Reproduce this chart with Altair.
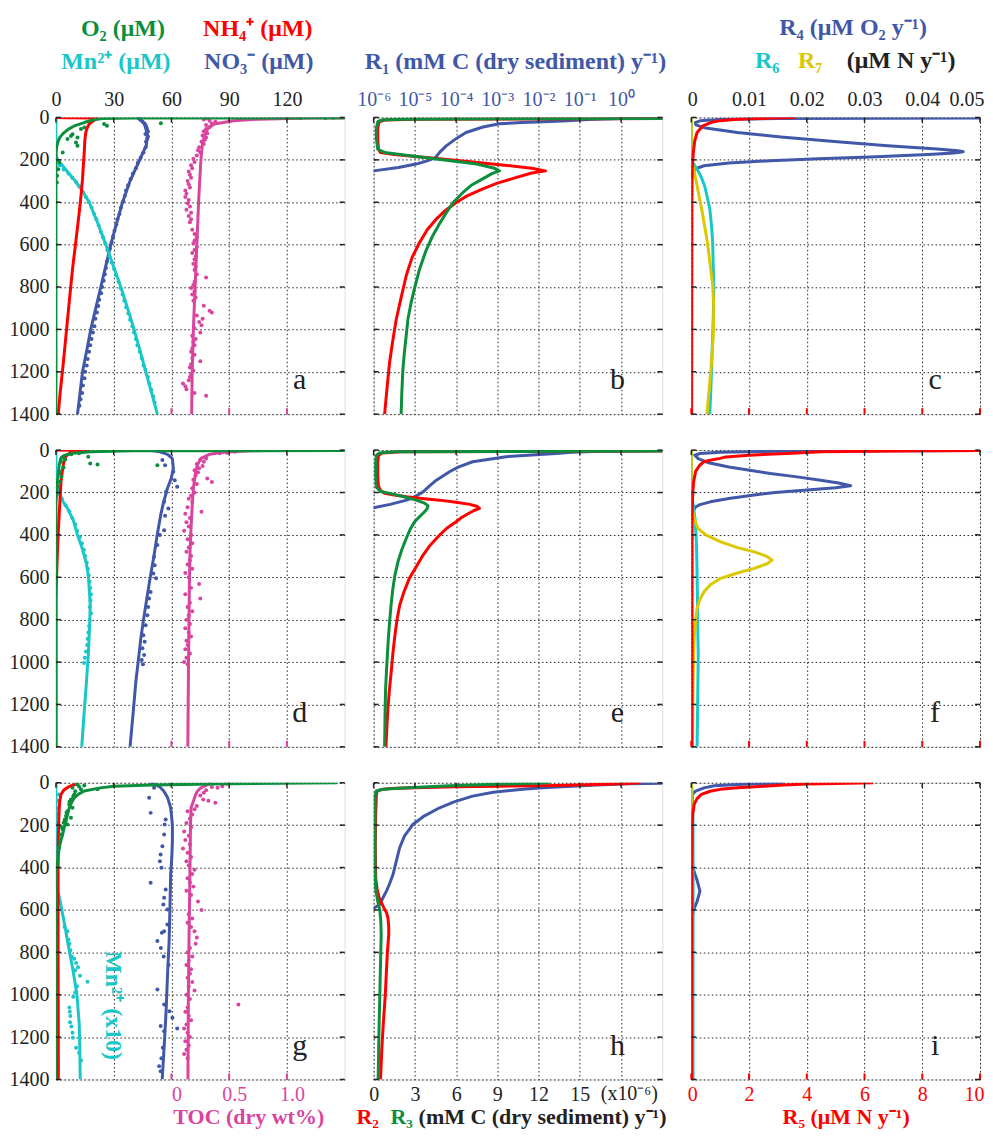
import altair as alt
import pandas as pd

FONT = "Liberation Serif"
GREEN = "#0b8f3d"
RED = "#ff0000"
CYAN = "#19c6c8"
BLUE = "#4157a7"
PINK = "#d9449f"
YELLOW = "#dcc800"
DARK = "#222222"
W, H = 289, 297
TITLE_SIZE = 24
BOTTOM_TITLE_SIZE = 22
TICK_SIZE = 20
BOTTOM_LABEL_PAD = 21
BOTTOM_TITLE_Y = H + 45

DEPTH_TICKS = [0, 200, 400, 600, 800, 1000, 1200, 1400]
UM_DOM = [0, 150]
UM_TICKS = [0, 30, 60, 90, 120]
TOC_DOM = [-1.0, 1.5]
TOC_TICKS = [0, 0.5, 1.0]
R1_DOM = [-6, 1]
R1_TICKS = [-6, -5, -4, -3, -2, -1, 0]
R23_DOM = [0, 21]
R23_TICKS = [0, 3, 6, 9, 12, 15]
R467_DOM = [0, 0.05]
R467_TICKS = [0, 0.01, 0.02, 0.03, 0.04, 0.05]
R5_DOM = [0, 10]
R5_TICKS = [0, 2, 4, 6, 8, 10]

# ---------------- panel a  (depth, value) ----------------
A_O2_LINE = [(1, 250), (3, 40), (5, 24), (12, 19), (24, 14.7), (40, 9.5), (55, 6.5), (75, 3.8), (94, 2), (115, 1), (134, 0.5), (160, 0.1), (180, 0), (1400, 0)]
A_O2_DOTS = [(2, 127), (3, 140), (1, 144), (27, 54.5), (31, 25), (39, 26.5), (47, 14.7), (55, 13), (79, 8.6), (87, 7.8), (94, 11.2), (102, 6), (118, 10.4), (134, 11.2), (165, 3.5), (212, 1.7), (244, 1.2), (275, 0.6), (307, 0.5)]
A_NH4_LINE = [(0, 0), (1, 5), (2, 20), (5, 21.5), (15, 19.5), (31, 17.3), (50, 16.2), (71, 15.5), (110, 15), (165, 14.7), (230, 14.2), (291, 13.8), (370, 13), (448, 12.1), (580, 10.4), (716, 8.6), (870, 6.9), (1030, 5.2), (1160, 3.8), (1298, 2.2), (1400, 1.2)]
A_NO3_LINE = [(0, 43), (30, 46), (80, 47.5), (130, 47), (200, 43.5), (300, 38.5), (400, 34.6), (500, 31.5), (600, 28.5), (700, 25.9), (800, 23.3), (900, 20.7), (1000, 18.1), (1100, 16), (1200, 13.8), (1300, 12.5), (1400, 11.2)]
A_NO3_DOTS = [(5, 43), (12, 44), (20, 45), (28, 46), (36, 46.5), (45, 47), (55, 47.3), (66, 47.8), (78, 46.5), (90, 47.8), (100, 47.5), (115, 46.8), (140, 46.6), (165, 45.5), (190, 44), (215, 42.5), (240, 41.5), (265, 40), (290, 38.8), (320, 37.5), (345, 36.4), (370, 35.8), (395, 35), (425, 33.8), (455, 33), (480, 31.9), (505, 31.4), (535, 30.4), (560, 29.7), (590, 28.9), (620, 28), (650, 27.6), (680, 26.5), (710, 26), (740, 25.4), (770, 24.8), (800, 24), (830, 23.5), (860, 22.5), (890, 22), (920, 21.3), (950, 20.5), (985, 20), (1015, 19.2), (1045, 18.5), (1075, 17.8), (1105, 17.2), (1140, 16.5), (1170, 16), (1200, 15.2), (1230, 14.8), (1265, 14), (1300, 13.6), (1330, 12.8), (1360, 12.2)]
A_MN_LINE = [(0, 0), (180, 0), (200, 1), (250, 5.5), (300, 10), (350, 14), (400, 17.3), (500, 21.8), (600, 25.9), (700, 29.8), (800, 33.7), (900, 37.2), (1000, 40.6), (1100, 43.7), (1200, 46.7), (1300, 49.7), (1400, 52.7)]
A_MN_DOTS = [(200, 0.5), (225, 2), (245, 4), (265, 6.5), (285, 8.5), (305, 10.5), (325, 12), (350, 13.8), (375, 15.5), (400, 17), (425, 18.5), (455, 19.8), (480, 21), (510, 22.2), (540, 23.3), (565, 24.4), (595, 25.6), (625, 26.7), (655, 27.8), (685, 29), (715, 30.2), (745, 31.2), (775, 32.5), (805, 33.5), (835, 34.6), (865, 35.5), (895, 36.5), (925, 37.6), (955, 38.5), (985, 39.7), (1015, 40.5), (1045, 41.5), (1075, 42.3), (1105, 43.5), (1135, 44.5), (1170, 45.5), (1190, 46.5), (1225, 47.8), (1255, 48.5), (1285, 49.5), (1315, 50.5), (1345, 51.3)]
A_TOC_LINE = [(0, 2.5), (3, 1.2), (8, 0.75), (16, 0.54), (31, 0.37), (50, 0.32), (71, 0.296), (100, 0.28), (133, 0.267), (200, 0.255), (300, 0.245), (400, 0.235), (600, 0.22), (800, 0.205), (1000, 0.19), (1200, 0.18), (1400, 0.175)]
A_TOC_DOTS = [(5, 0.3), (10, 0.28), (15, 0.33), (20, 0.38), (28, 0.35), (35, 0.3), (45, 0.33), (55, 0.3), (65, 0.28), (75, 0.31), (85, 0.27), (95, 0.3), (105, 0.29), (115, 0.26), (125, 0.28), (140, 0.24), (155, 0.23), (165, 0.25), (180, 0.22), (195, 0.19), (210, 0.2), (225, 0.17), (240, 0.18), (255, 0.15), (270, 0.16), (285, 0.17), (300, 0.14), (315, 0.15), (330, 0.16), (345, 0.12), (360, 0.13), (375, 0.12), (390, 0.15), (405, 0.14), (420, 0.16), (435, 0.13), (450, 0.17), (465, 0.15), (480, 0.17), (495, 0.16), (530, 0.18), (550, 0.2), (565, 0.22), (580, 0.2), (595, 0.19), (610, 0.22), (625, 0.2), (640, 0.18), (655, 0.21), (670, 0.2), (690, 0.19), (705, 0.21), (720, 0.2), (740, 0.22), (755, 0.3), (775, 0.2), (790, 0.19), (805, 0.17), (820, 0.2), (835, 0.18), (850, 0.21), (865, 0.19), (889, 0.28), (912, 0.33), (920, 0.35), (935, 0.22), (950, 0.27), (965, 0.24), (980, 0.26), (995, 0.2), (1015, 0.25), (1030, 0.18), (1045, 0.21), (1060, 0.19), (1075, 0.2), (1090, 0.18), (1105, 0.17), (1120, 0.2), (1135, 0.18), (1150, 0.25), (1165, 0.17), (1180, 0.16), (1195, 0.19), (1210, 0.17), (1225, 0.16), (1240, 0.15), (1255, 0.1), (1268, 0.12), (1282, 0.13), (1300, 0.2), (1313, 0.3)]

# ---------------- panel b ----------------
B_R1_LOG = [(0, 2), (5, 0), (10, -0.8), (15, -1.3), (19, -1.7), (24, -2.4), (30, -2.95), (45, -3.35), (71, -3.76), (100, -4.0), (134, -4.24), (165, -4.4), (189, -4.5), (205, -4.7), (220, -4.97), (236, -5.4), (252, -6), (262, -6.5)]
B_R2 = [(0, 60), (4, 25), (8, 3), (12, 0.8), (20, 0.4), (50, 0.3), (100, 0.3), (150, 0.35), (165, 0.5), (175, 1.5), (190, 4), (205, 6.5), (225, 9.5), (240, 11.5), (252, 12.5), (262, 11.5), (283, 10.4), (310, 9), (338, 7.9), (370, 6.8), (401, 6.0), (440, 5.2), (480, 4.55), (530, 3.9), (590, 3.34), (660, 2.8), (747, 2.37), (850, 2.0), (951, 1.65), (1050, 1.4), (1156, 1.16), (1280, 0.97), (1400, 0.8)]
B_R3 = [(0, 60), (4, 25), (8, 2), (12, 0.6), (20, 0.3), (50, 0.2), (100, 0.2), (150, 0.3), (165, 0.8), (180, 2.5), (200, 5), (220, 7.5), (240, 8.8), (252, 9.15), (265, 8.6), (291, 7.9), (320, 7.1), (354, 6.5), (400, 5.8), (448, 5.3), (500, 4.8), (558, 4.3), (630, 3.8), (716, 3.34), (800, 3.0), (873, 2.73), (950, 2.5), (1030, 2.37), (1100, 2.25), (1188, 2.13), (1300, 2.05), (1400, 2.0)]

# ---------------- panel c ----------------
C_R4 = [(0, 0.2), (2, 0.05), (5, 0.015), (10, 0.005), (16, 0.0015), (24, 0.0007), (35, 0.0008), (50, 0.0025), (71, 0.008), (92, 0.0155), (115, 0.0253), (133, 0.034), (149, 0.0426), (157, 0.0462), (162, 0.0471), (168, 0.0455), (175, 0.041), (186, 0.031), (195, 0.022), (204, 0.0137), (215, 0.0065), (228, 0.0022), (242, 0.0007), (260, 0.0002), (290, 0)]
C_R5 = [(0, 3.6), (3, 2.8), (8, 1.6), (15, 1.0), (24, 0.67), (40, 0.4), (71, 0.2), (110, 0.12), (165, 0.07), (250, 0.03), (400, 0.02), (1400, 0.01)]
C_R6 = [(0, 0), (200, 0), (215, 0.0003), (244, 0.001), (280, 0.0017), (322, 0.0023), (380, 0.0028), (432, 0.0032), (510, 0.0035), (590, 0.0037), (700, 0.0038), (800, 0.0039), (950, 0.0038), (1110, 0.0036), (1270, 0.0034), (1400, 0.0032)]
C_R7 = [(0, 0), (200, 0), (240, 0.0004), (322, 0.001), (448, 0.0019), (590, 0.0028), (700, 0.0033), (790, 0.0037), (900, 0.0039), (1030, 0.0038), (1190, 0.0034), (1400, 0.0027)]

# ---------------- panel d ----------------
D_O2_LINE = [(1, 250), (3, 40), (8, 18), (15, 8.6), (25, 4.3), (40, 2.5), (70, 1.7), (130, 1.0), (180, 0.5), (250, 0), (1400, 0)]
D_O2_DOTS = [(15, 12), (20, 8), (31, 16.8), (35, 3.2), (44, 4.8), (55, 2.6), (63, 17.8), (68, 21.6), (71, 52.7), (82, 4.0), (102, 2.2), (110, 1.5), (126, 2.9), (149, 1.9), (173, 1.2)]
D_NH4_LINE = [(0, 0), (1, 10), (2, 17), (5, 12), (15, 7), (30, 5), (60, 4), (100, 3.3), (150, 2.6), (250, 2.0), (350, 1.4), (450, 0.9), (550, 0.5), (650, 0.15), (700, 0), (1400, 0)]
D_NO3_LINE = [(0, 48), (8, 54), (20, 58), (40, 60.5), (87, 61), (130, 60), (181, 57.9), (250, 55.8), (307, 54.4), (400, 52.6), (495, 51), (600, 49), (684, 47.5), (800, 45.5), (889, 44.1), (1000, 42.7), (1093, 41.5), (1250, 40), (1400, 38.5)]
D_NO3_DOTS = [(47, 55.3), (71, 56.7), (102, 61), (142, 61.7), (173, 63), (197, 57.2), (244, 56.2), (275, 58.4), (310, 56.7), (378, 56.2), (401, 54), (448, 52.7), (503, 51), (543, 51.3), (582, 50.6), (605, 52), (669, 49.2), (700, 48.4), (740, 47.9), (779, 47.5), (826, 46.6), (873, 45.4), (904, 46.1), (935, 44.9), (967, 45.8), (990, 44.6), (1010, 45.2)]
D_MN_LINE = [(0, 0), (170, 0), (200, 1.5), (240, 3.5), (275, 6), (330, 9), (401, 11.2), (460, 13.5), (527, 15.6), (590, 16.8), (653, 17.3), (730, 17.8), (810, 17.6), (967, 16.8), (1125, 15.6), (1282, 14.3), (1400, 13.4)]
D_MN_DOTS = [(200, 1), (230, 3), (260, 5), (290, 7), (320, 8.5), (350, 10), (380, 11), (410, 12.5), (440, 13.5), (470, 14.5), (500, 15.2), (530, 16), (560, 16.6), (590, 17), (620, 17.5), (650, 17.8), (680, 18.2), (710, 18), (740, 17.6), (770, 18.2), (800, 17.5), (830, 17.2), (860, 16.8), (890, 16.5), (920, 16.2), (950, 15.6), (980, 15), (1005, 14.6)]
D_TOC_LINE = [(0, 1.0), (3, 0.7), (6, 0.55), (11, 0.43), (20, 0.33), (39, 0.255), (70, 0.225), (102, 0.21), (180, 0.19), (260, 0.18), (400, 0.167), (495, 0.16), (650, 0.155), (810, 0.152), (1000, 0.148), (1200, 0.145), (1400, 0.142)]
D_TOC_DOTS = [(8, 0.55), (12, 0.48), (15, 0.42), (40, 0.3), (45, 0.25), (55, 0.28), (65, 0.22), (75, 0.27), (85, 0.24), (95, 0.2), (105, 0.23), (120, 0.21), (134, 0.31), (140, 0.19), (150, 0.35), (160, 0.22), (180, 0.18), (200, 0.2), (215, 0.17), (230, 0.15), (245, 0.18), (270, 0.14), (291, 0.26), (300, 0.12), (320, 0.16), (340, 0.13), (360, 0.15), (380, 0.11), (400, 0.17), (420, 0.14), (440, 0.18), (460, 0.15), (480, 0.13), (500, 0.17), (520, 0.16), (540, 0.14), (560, 0.18), (580, 0.12), (600, 0.15), (632, 0.24), (650, 0.17), (680, 0.12), (700, 0.25), (720, 0.16), (740, 0.14), (760, 0.18), (780, 0.15), (800, 0.13), (820, 0.16), (840, 0.12), (860, 0.15), (880, 0.17), (900, 0.13), (920, 0.14), (940, 0.12), (960, 0.16), (980, 0.13), (1000, 0.11), (1010, 0.14)]

# ---------------- panel e ----------------
E_R1_LOG = [(0, 1.5), (5, -0.5), (10, -1.2), (16, -1.58), (31, -2.79), (55, -3.6), (80, -3.95), (102, -4.16), (142, -4.48), (170, -4.65), (197, -4.8), (220, -5.0), (236, -5.2), (256, -5.6), (272, -6), (285, -6.5)]
E_R2 = [(0, 60), (4, 20), (8, 2), (14, 0.6), (25, 0.35), (60, 0.3), (120, 0.3), (170, 0.35), (190, 0.5), (204, 0.8), (212, 1.5), (220, 2.4), (228, 3.5), (236, 4.8), (246, 6.0), (256, 7.0), (265, 7.5), (275, 7.7), (285, 7.3), (299, 6.9), (318, 6.4), (338, 6.0), (370, 5.3), (401, 4.8), (450, 4.1), (495, 3.6), (550, 3.1), (605, 2.6), (670, 2.2), (731, 1.9), (800, 1.7), (889, 1.52), (960, 1.4), (1046, 1.28), (1130, 1.15), (1219, 1.04), (1300, 0.97), (1400, 0.9)]
E_R3 = [(0, 60), (4, 20), (8, 1.5), (14, 0.4), (25, 0.2), (60, 0.15), (120, 0.15), (175, 0.2), (195, 0.5), (204, 1.2), (220, 2.2), (236, 3.1), (250, 3.7), (262, 3.95), (275, 3.9), (288, 3.75), (299, 3.58), (320, 3.25), (338, 2.98), (375, 2.65), (417, 2.37), (470, 2.05), (527, 1.77), (590, 1.55), (653, 1.4), (730, 1.27), (810, 1.16), (890, 1.07), (967, 1.0), (1050, 0.93), (1125, 0.87), (1250, 0.83), (1400, 0.8)]

# ---------------- panel f ----------------
F_R4 = [(0, 0.2), (2, 0.05), (5, 0.015), (10, 0.005), (16, 0.0015), (24, 0.0006), (40, 0.0012), (60, 0.003), (80, 0.0065), (110, 0.0137), (125, 0.018), (142, 0.0224), (155, 0.0255), (168, 0.0276), (178, 0.025), (189, 0.0195), (200, 0.0145), (212, 0.0109), (228, 0.0065), (244, 0.0033), (257, 0.0015), (267, 0.0008), (290, 0.0002), (310, 0)]
F_R5 = [(0, 12), (4, 7), (8, 4.5), (16, 3.3), (24, 2.0), (32, 1.2), (39, 1.0), (48, 0.65), (55, 0.44), (70, 0.3), (100, 0.15), (150, 0.08), (200, 0.05), (300, 0.03), (1400, 0.02)]
F_R6 = [(0, 0), (210, 0), (250, 0.0003), (338, 0.0007), (450, 0.0009), (574, 0.001), (800, 0.0011), (967, 0.0012), (1200, 0.0011), (1400, 0.001)]
F_R7 = [(0, 0), (260, 0), (300, 0.0003), (340, 0.0007), (370, 0.0012), (400, 0.0025), (433, 0.0051), (460, 0.008), (480, 0.0109), (500, 0.013), (519, 0.014), (535, 0.0132), (558, 0.0109), (580, 0.008), (605, 0.0051), (635, 0.0033), (668, 0.0022), (710, 0.0014), (747, 0.001), (820, 0.0007), (889, 0.0005), (1100, 0.0003), (1400, 0.0002)]

# ---------------- panel g ----------------
G_O2_LINE = [(0, 146), (5, 90), (10, 50), (16, 30), (24, 23), (39, 14.7), (55, 11.5), (71, 9.5), (95, 8), (118, 6.9), (150, 6), (181, 5.2), (210, 4.3), (244, 3.5), (275, 2.5), (307, 1.7), (340, 1.2), (370, 0.9), (420, 0.3), (480, 0), (1400, 0)]
G_O2_DOTS = [(8, 11.2), (13, 14.7), (18, 12), (24, 8.6), (31, 13), (31, 21.6), (40, 10), (55, 9.5), (65, 9), (79, 7.8), (90, 7), (102, 6.9), (118, 8.6), (134, 6), (140, 5.5), (157, 5.2), (165, 7.8), (175, 4.5), (189, 4), (197, 6), (210, 3), (220, 3.5), (244, 2.6), (275, 2.2), (307, 1.7), (330, 1.2)]
G_NH4_LINE = [(0, 11.5), (5, 11.2), (12, 8.5), (22, 6), (35, 4), (55, 2.6), (85, 2.0), (118, 1.7), (200, 1.4), (275, 1.2), (500, 1.1), (800, 1.1), (1100, 1.2), (1400, 1.25)]
G_NO3_LINE = [(0, 49), (10, 52), (20, 54), (39, 56), (70, 58), (118, 59.6), (197, 60.5), (275, 60.5), (350, 60.2), (433, 59.6), (600, 59.2), (747, 58.8), (900, 58), (1062, 57.3), (1200, 56.5), (1400, 55.2)]
G_NO3_DOTS = [(24, 51), (71, 48.4), (142, 49.2), (173, 57), (197, 56.5), (244, 56.2), (299, 55.3), (338, 54.4), (370, 54), (401, 54.8), (472, 49.2), (503, 57), (543, 56.2), (574, 55.8), (598, 57.9), (669, 57.9), (700, 56.2), (708, 55), (747, 52.7), (780, 54.5), (820, 56), (860, 58.5), (975, 52.7), (1046, 56.2), (1078, 59), (1109, 60.5), (1148, 54.4), (1160, 63), (1172, 56.2), (1250, 55.5), (1300, 54.8), (1337, 53.6), (1361, 54.4)]
G_MN_LINE = [(0, 0), (450, 0), (511, 0.9), (560, 2.2), (621, 3.5), (684, 4.8), (747, 6), (810, 7.3), (873, 8.6), (936, 9.8), (999, 10.9), (1070, 11.5), (1140, 12.1), (1250, 12.4), (1400, 12.6)]
G_MN_DOTS = [(55, 1.5), (85, 0.8), (120, 0.5), (150, 0.9), (190, 0.4), (260, 0.6), (330, 0.3), (390, 0.5), (440, 0.2), (680, 4.5), (700, 6.0), (740, 6.5), (760, 7.0), (790, 7.5), (820, 8.2), (830, 9.5), (850, 10.5), (870, 11.5), (885, 10.0), (910, 12.5), (939, 16.4), (960, 10.9), (990, 10), (1010, 9), (1060, 7), (1080, 7.2), (1100, 7.5), (1130, 7.3), (1150, 8), (1180, 8.6), (1203, 8.8), (1250, 10.5), (1274, 12), (1310, 13)]
G_TOC_LINE = [(0, 0.35), (5, 0.33), (12, 0.3), (24, 0.253), (40, 0.225), (55, 0.21), (87, 0.19), (118, 0.17), (200, 0.165), (433, 0.16), (747, 0.152), (1062, 0.146), (1400, 0.143)]
G_TOC_DOTS = [(5, 0.48), (16, 0.44), (20, 0.35), (24, 0.4), (35, 0.3), (47, 0.28), (60, 0.25), (79, 0.275), (85, 0.32), (94, 0.38), (110, 0.22), (125, 0.2), (134, 0.14), (150, 0.18), (170, 0.16), (190, 0.13), (210, 0.17), (230, 0.11), (250, 0.15), (270, 0.12), (290, 0.16), (310, 0.1), (330, 0.14), (350, 0.17), (370, 0.13), (390, 0.15), (410, 0.2), (430, 0.18), (450, 0.14), (470, 0.16), (490, 0.19), (510, 0.13), (530, 0.17), (560, 0.23), (600, 0.26), (620, 0.15), (640, 0.18), (660, 0.14), (680, 0.17), (700, 0.2), (730, 0.22), (760, 0.21), (780, 0.16), (800, 0.14), (820, 0.18), (840, 0.15), (860, 0.13), (880, 0.17), (900, 0.16), (920, 0.14), (940, 0.18), (960, 0.15), (980, 0.2), (1000, 0.13), (1020, 0.16), (1046, 0.58), (1060, 0.14), (1080, 0.12), (1100, 0.15), (1120, 0.17), (1140, 0.13), (1160, 0.11), (1180, 0.14), (1200, 0.16), (1220, 0.12), (1240, 0.15), (1260, 0.13), (1280, 0.11), (1300, 0.14)]

# ---------------- panel h ----------------
H_R1_LOG = [(0, 1.5), (5, 0.2), (10, -0.6), (16, -1.18), (24, -1.9), (31, -2.39), (45, -3.1), (63, -3.6), (90, -4.05), (118, -4.4), (160, -4.8), (197, -5.05), (250, -5.25), (307, -5.37), (370, -5.45), (433, -5.53), (480, -5.62), (511, -5.69), (545, -5.78), (574, -5.85), (590, -5.98), (600, -6.3)]
H_R2 = [(0, 19.4), (5, 18), (9, 15.5), (12.6, 13.3), (16, 9), (19, 6), (23, 3), (27, 1.16), (33, 0.5), (39, 0.25), (60, 0.2), (150, 0.15), (300, 0.12), (450, 0.15), (500, 0.25), (543, 0.4), (570, 0.6), (590, 0.75), (615, 0.95), (637, 1.04), (680, 1.1), (716, 1.1), (800, 1.0), (904, 0.92), (1000, 0.85), (1140, 0.7), (1250, 0.6), (1400, 0.5)]
H_R3 = [(0, 12.8), (4, 10.5), (8, 8.4), (14, 5.5), (20, 3.6), (26, 1.8), (31, 0.68), (39, 0.2), (60, 0.1), (400, 0.1), (500, 0.15), (560, 0.3), (600, 0.45), (650, 0.52), (716, 0.55), (800, 0.52), (1000, 0.45), (1200, 0.38), (1400, 0.33)]

# ---------------- panel i ----------------
I_R4 = [(0, 0.016), (3, 0.0132), (8, 0.008), (14, 0.004), (24, 0.0022), (39, 0.00075), (55, 0.0002), (80, 0.0001), (380, 0.0001), (420, 0.0005), (460, 0.001), (511, 0.0015), (560, 0.001), (600, 0.0004), (640, 0.0001), (1400, 0)]
I_R5 = [(0, 6.3), (3, 5), (6, 4), (10, 3.2), (16, 2.5), (24, 1.6), (31, 1.0), (40, 0.65), (55, 0.35), (75, 0.2), (102, 0.1), (150, 0.05), (200, 0.03), (400, 0.02), (1400, 0.02)]
I_R6 = [(0, 0), (60, 0.0002), (200, 0.0003), (1400, 0.0003)]
I_R7 = [(0, 0), (1400, 0.0001)]

GRID = dict(grid=True, gridDash=[1.5, 2.5], gridColor=DARK, gridWidth=1, gridOpacity=1)
LAB = dict(labelFont=FONT, labelFontSize=TICK_SIZE)


def yenc(labels):
    return alt.Y("d:Q", scale=alt.Scale(domain=[0, 1400], reverse=True, nice=False, zero=False),
                 axis=alt.Axis(values=DEPTH_TICKS, labels=labels, ticks=False, tickSize=0, domain=False,
                               format="d", labelColor=DARK, labelPadding=7, labelFlush=False, title=None,
                               **LAB, **GRID))


def top_axis(ticks, labels, color, expr=None, flush=False):
    kw = dict(orient="top", values=ticks, labels=labels, ticks=False, tickSize=0, domain=False, title=None,
              labelColor=color, labelPadding=12, labelBaseline="alphabetic", labelFlush=flush, **LAB, **GRID)
    if flush:
        kw["labelFlushOffset"] = 4
    if expr:
        kw["labelExpr"] = expr
    return alt.Axis(**kw)


def bottom_axis(ticks, color, expr=None, offset=0, flush=False):
    kw = dict(orient="bottom", values=ticks, labels=True, ticks=False, tickSize=0, domain=False, grid=False,
              title=None, labelColor=color, labelPadding=BOTTOM_LABEL_PAD, labelBaseline="alphabetic",
              labelOffset=offset, labelFlush=flush, **LAB)
    if flush:
        kw["labelFlushOffset"] = 4
    if expr:
        kw["labelExpr"] = expr
    return alt.Axis(**kw)


def xq(dom, axis=None):
    return alt.X("v:Q", scale=alt.Scale(domain=dom, nice=False, zero=False), axis=axis)


def frame(pairs):
    f = pd.DataFrame(pairs, columns=["d", "v"])
    f["i"] = range(len(f))
    return f


def line(pairs, color, dom, Y, axis=None, w=3):
    return alt.Chart(frame(pairs)).mark_line(color=color, strokeWidth=w, clip=True, strokeJoin="round").encode(
        x=xq(dom, axis), y=Y, order="i:Q")


def dots(pairs, color, dom, Y):
    return alt.Chart(frame(pairs)).mark_circle(color=color, size=16, opacity=1, clip=True).encode(x=xq(dom), y=Y)


def txt(text, color, x, y, size=TITLE_SIZE, weight="bold", align="center", angle=0, baseline="alphabetic"):
    return alt.Chart(pd.DataFrame({"t": [text]})).mark_text(
        font=FONT, fontSize=size, fontWeight=weight, color=color, align=align, baseline=baseline, angle=angle
    ).encode(x=alt.value(x), y=alt.value(y), text="t:N")


def cticks(ticks, color, dom):
    return alt.Chart(pd.DataFrame({"v": ticks})).mark_rule(color=color, strokeWidth=2).encode(
        x=xq(dom), y=alt.value(H - 6), y2=alt.value(H))


def edge_ticks(Y, ticks, dom):
    """Short inward tick marks on the frame, at the depth ticks (left/right) and at the top-axis ticks."""
    dd = pd.DataFrame({"d": DEPTH_TICKS})
    left = alt.Chart(dd).mark_rule(color=DARK, strokeWidth=1.5).encode(y=Y, x=alt.value(0), x2=alt.value(5))
    right = alt.Chart(dd).mark_rule(color=DARK, strokeWidth=1.5).encode(y=Y, x=alt.value(W - 5), x2=alt.value(W))
    top = alt.Chart(pd.DataFrame({"v": ticks})).mark_rule(color=DARK, strokeWidth=1.5).encode(
        x=xq(dom), y=alt.value(0), y2=alt.value(5))
    return [left, right, top]


def letter(ch):
    return txt(ch, DARK, 244, 272, size=30, weight="normal")


def panel(layers):
    return alt.layer(*layers).resolve_scale(x="independent").properties(width=W, height=H)


TOC_EXPR = "datum.value == 0 ? '0' : format(datum.value, '.1f')"
R467_EXPR = "datum.value == 0 ? '0' : format(datum.value, '.2f')"
R1_EXPR = ("'10' + (datum.value == -6 ? '⁻⁶' : datum.value == -5 ? '⁻⁵' : datum.value == -4 ? '⁻⁴' : "
           "datum.value == -3 ? '⁻³' : datum.value == -2 ? '⁻²' : datum.value == -1 ? '⁻¹' : '⁰')")


def col1(row, O2L, O2D, NH4L, NO3L, NO3D, MNL, MND, TOCL, TOCD, extra):
    Y = yenc(True)
    layers = [
        line(NO3L, BLUE, UM_DOM, Y, axis=top_axis(UM_TICKS, row == 0, DARK)),
        dots(TOCD, PINK, TOC_DOM, Y),
        line(TOCL, PINK, TOC_DOM, Y, axis=bottom_axis(TOC_TICKS, PINK, TOC_EXPR, 5) if row == 2 else None),
        dots(NO3D, BLUE, UM_DOM, Y),
        dots(MND, CYAN, UM_DOM, Y),
        line(MNL, CYAN, UM_DOM, Y),
        line(NH4L, RED, UM_DOM, Y),
        dots(O2D, GREEN, UM_DOM, Y),
        line(O2L, GREEN, UM_DOM, Y),
        cticks(TOC_TICKS, PINK, TOC_DOM),
    ] + edge_ticks(Y, UM_TICKS, UM_DOM)
    return panel(layers + extra)


def col2(row, R1, R2, R3, extra):
    Y = yenc(False)
    layers = [
        line(R1, BLUE, R1_DOM, Y, axis=top_axis(R1_TICKS, row == 0, BLUE, R1_EXPR)),
        line(R2, RED, R23_DOM, Y, axis=bottom_axis(R23_TICKS, DARK) if row == 2 else None),
        line(R3, GREEN, R23_DOM, Y),
    ] + edge_ticks(Y, R1_TICKS, R1_DOM)
    return panel(layers + extra)


def col3(row, R4, R5, R6, R7, extra):
    Y = yenc(False)
    layers = [
        line(R4, BLUE, R467_DOM, Y, axis=top_axis(R467_TICKS, row == 0, DARK, R467_EXPR, flush=True)),
        line(R6, CYAN, R467_DOM, Y),
        line(R7, YELLOW, R467_DOM, Y),
        line(R5, RED, R5_DOM, Y, axis=bottom_axis(R5_TICKS, RED, flush=True) if row == 2 else None),
        cticks(R5_TICKS, RED, R5_DOM),
    ] + edge_ticks(Y, R467_TICKS, R467_DOM)
    return panel(layers + extra)


pa = col1(0, A_O2_LINE, A_O2_DOTS, A_NH4_LINE, A_NO3_LINE, A_NO3_DOTS, A_MN_LINE, A_MN_DOTS, A_TOC_LINE, A_TOC_DOTS, [
    letter("a"),
    txt("O₂ (μM)", GREEN, 67, -82),
    txt("NH₄⁺ (μM)", RED, 202, -82),
    txt("Mn²⁺ (μM)", CYAN, 60, -49),
    txt("NO₃⁻ (μM)", BLUE, 203, -49),
])
pb = col2(0, B_R1_LOG, B_R2, B_R3, [
    letter("b"),
    txt("R₁ (mM C (dry sediment) y⁻¹)", BLUE, 142, -49),
])
pc = col3(0, C_R4, C_R5, C_R6, C_R7, [
    letter("c"),
    txt("R₄ (μM O₂ y⁻¹)", BLUE, 162, -83),
    txt("R₆", CYAN, 76, -50),
    txt("R₇", YELLOW, 119, -50),
    txt("(μM N y⁻¹)", DARK, 210, -50),
])
pd_ = col1(1, D_O2_LINE, D_O2_DOTS, D_NH4_LINE, D_NO3_LINE, D_NO3_DOTS, D_MN_LINE, D_MN_DOTS, D_TOC_LINE, D_TOC_DOTS, [
    letter("d"),
])
pe = col2(1, E_R1_LOG, E_R2, E_R3, [letter("e")])
pf = col3(1, F_R4, F_R5, F_R6, F_R7, [letter("f")])
pg = col1(2, G_O2_LINE, G_O2_DOTS, G_NH4_LINE, G_NO3_LINE, G_NO3_DOTS, G_MN_LINE, G_MN_DOTS, G_TOC_LINE, G_TOC_DOTS, [
    letter("g"),
    txt("Mn²⁺ (x10)", CYAN, 57, 223, angle=90, baseline="middle"),
    txt("TOC (dry wt%)", PINK, 193, BOTTOM_TITLE_Y, size=BOTTOM_TITLE_SIZE),
])
ph = col2(2, H_R1_LOG, H_R2, H_R3, [
    letter("h"),
    txt("(x10⁻⁶)", DARK, 256, H + BOTTOM_LABEL_PAD, size=TICK_SIZE, weight="normal"),
    txt("R₂", RED, -6, BOTTOM_TITLE_Y, size=BOTTOM_TITLE_SIZE),
    txt("R₃", GREEN, 28, BOTTOM_TITLE_Y, size=BOTTOM_TITLE_SIZE),
    txt("(mM C (dry sediment) y⁻¹)", DARK, 45, BOTTOM_TITLE_Y, size=BOTTOM_TITLE_SIZE, align="left"),
])
pi = col3(2, I_R4, I_R5, I_R6, I_R7, [
    letter("i"),
    txt("R₅ (μM N y⁻¹)", RED, 155, BOTTOM_TITLE_Y, size=BOTTOM_TITLE_SIZE),
])

chart = alt.concat(pa, pb, pc, pd_, pe, pf, pg, ph, pi, columns=3,
                   spacing=alt.RowColnumber(row=36, column=29), bounds="flush").properties(
    padding={"left": 0, "top": 6, "right": 0, "bottom": 0},
    background="white",
).configure_view(stroke="#333333", strokeWidth=2).configure(font=FONT)

chart.save("out.html", embed_options={"renderer": "svg", "actions": False})
